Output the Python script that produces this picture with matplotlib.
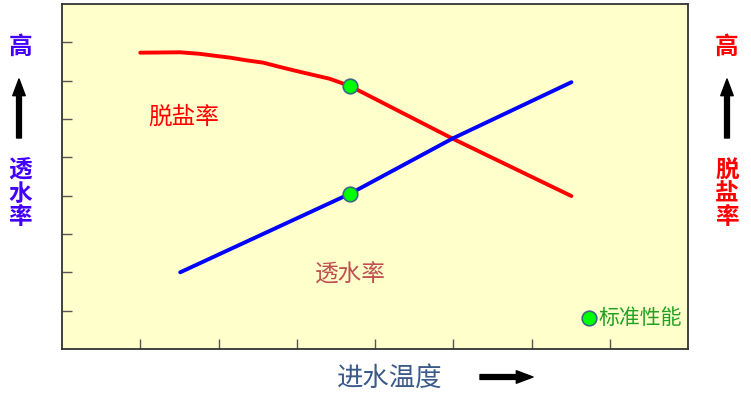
import matplotlib
matplotlib.use('Agg')
import matplotlib.pyplot as plt

plt.rcParams['font.family'] = ['Noto Sans CJK SC', 'DejaVu Sans']

# salt rejection curve (red)
salt_x = [1.0, 1.51, 1.76, 1.95, 2.15, 2.36, 2.57, 2.78, 3.0, 3.21, 3.42, 3.68, 4.99, 6.51]
salt_y = [7.73, 7.74, 7.70, 7.65, 7.60, 7.53, 7.47, 7.36, 7.25, 7.15, 7.05, 6.86, 5.49, 3.99]
# water permeability line (blue)
flux_x = [1.51, 3.68, 4.99, 6.51]
flux_y = [2.0, 4.05, 5.49, 6.96]
# standard performance points
std_x = [3.68, 3.68]
std_y = [6.86, 4.05]

x_ticks = [1, 2, 3, 4, 5, 6, 7]
y_ticks = [1, 2, 3, 4, 5, 6, 7, 8]

W, H = 751, 398
fig = plt.figure(figsize=(W / 100, H / 100), dpi=100)
ax = fig.add_axes([62 / W, (H - 349) / H, 626 / W, 345 / H])
ax.set_facecolor('#FFFFCC')

ax.plot(salt_x, salt_y, color='#FF0000', lw=2.8, solid_capstyle='round',
        solid_joinstyle='round')
ax.plot(flux_x, flux_y, color='#0000FF', lw=2.8, solid_capstyle='round')
ax.plot(std_x, std_y, 'o', color='#00FF00', markeredgecolor='#3A6A80',
        markeredgewidth=1.2, markersize=10.5)

# legend-like marker
ax.plot([6.74], [0.81], 'o', color='#00FF00', markeredgecolor='#3A6A80',
        markeredgewidth=1.2, markersize=10.5)
ax.text(6.85, 0.81, '标准性能', color='#22A022', fontsize=15, va='center', ha='left')

ax.text(1.55, 6.04, '脱盐率', color='#FF0000', fontsize=17, ha='center', va='center')
ax.text(3.69, 1.93, '透水率', color='#C05050', fontsize=17, ha='center', va='center')

ax.set_xlim(0, 8)
ax.set_ylim(0, 9)
ax.set_xticks(x_ticks)
ax.set_yticks(y_ticks)
ax.set_xticklabels([])
ax.set_yticklabels([])
ax.tick_params(direction='in', length=7, width=1, color='#555555')
for s in ax.spines.values():
    s.set_linewidth(1.3)
    s.set_color('#333333')

def fx(px):
    return px / W

def fy(py):
    return (H - py) / H

# left side label
fig.text(fx(20), fy(47), '高', color='#4400FF', fontsize=17, fontweight='bold',
         ha='center', va='center')
fig.text(fx(20), fy(194), '透\n水\n率', color='#4400FF', fontsize=17, fontweight='bold',
         ha='center', va='center', linespacing=0.95)
# right side label
fig.text(fx(727), fy(47), '高', color='#FF0000', fontsize=17, fontweight='bold',
         ha='center', va='center')
fig.text(fx(727), fy(194), '脱\n盐\n率', color='#FF0000', fontsize=17, fontweight='bold',
         ha='center', va='center', linespacing=0.95)

arrow = dict(arrowstyle='simple,head_width=0.9,head_length=1.2,tail_width=0.35',
             color='black', shrinkA=0, shrinkB=0)
ax.annotate('', xy=(fx(19), fy(79)), xytext=(fx(19), fy(138)),
            xycoords='figure fraction', textcoords='figure fraction', arrowprops=arrow)
ax.annotate('', xy=(fx(727), fy(79)), xytext=(fx(727), fy(138)),
            xycoords='figure fraction', textcoords='figure fraction', arrowprops=arrow)

fig.text(fx(390), fy(378), '进水温度', color='#3A5A8A', fontsize=19,
         ha='center', va='center')
ax.annotate('', xy=(fx(533), fy(377)), xytext=(fx(480), fy(377)),
            xycoords='figure fraction', textcoords='figure fraction', arrowprops=arrow)

fig.savefig('out.png', dpi=100)
